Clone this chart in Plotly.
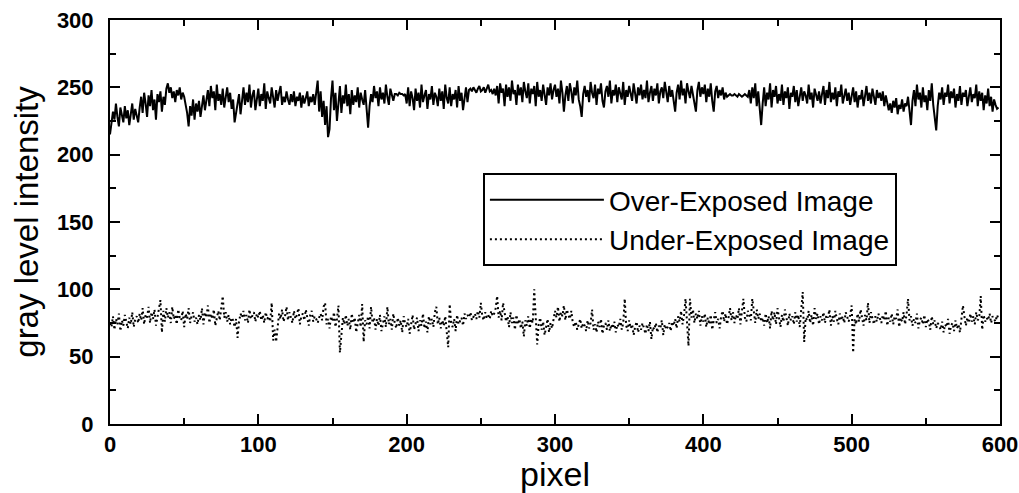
import plotly.graph_objects as go

over_exposed = [
    215, 222, 232, 226, 238, 228, 221, 235, 229, 224, 236, 227, 233, 222, 230, 238, 226, 234, 229, 224,
    235, 243, 231, 246, 238, 228, 244, 236, 248, 233, 241, 226, 245, 239, 247, 232, 243, 237, 249, 253,
    246, 250, 242, 247, 239, 248, 244, 250, 241, 246, 243, 238, 231, 221, 236, 229, 241, 226, 238, 232,
    240, 228, 237, 244, 233, 239, 248, 236, 251, 242, 247, 233, 252, 240, 245, 237, 249, 235, 244, 250,
    239, 246, 234, 241, 224, 232, 238, 245, 230, 243, 250, 237, 246, 239, 252, 235, 244, 248, 233, 241,
    249, 236, 245, 240, 253, 234, 247, 242, 238, 250, 244, 235, 248, 240, 246, 251, 237, 243, 239, 247,
    241, 237, 245, 239, 247, 236, 243, 240, 246, 235, 244, 238, 242, 247, 236, 243, 239, 245, 237, 248,
    255, 232, 247, 228, 240, 222, 236, 213, 219, 242, 255, 233, 246, 225, 240, 251, 231, 244, 238, 252,
    236, 245, 230, 248, 237, 244, 239, 250, 235, 246, 241, 237, 248, 233, 220, 236, 245, 239, 251, 242,
    247, 236, 250, 241, 246, 238, 252, 243, 237, 249, 244, 240, 245, 245, 244, 246, 245, 245, 244, 245,
    238, 250, 236, 247, 242, 233, 249, 240, 246, 235, 252, 239, 244, 248, 234, 245, 241, 251, 237, 246,
    243, 236, 249, 240, 247, 234, 252, 242, 238, 250, 236, 245, 241, 248, 235, 251, 240, 246, 233, 244,
    250, 239, 248, 249, 247, 250, 248, 246, 249, 251, 247, 248, 250, 246, 249, 252, 247, 248, 245, 249,
    244, 251, 238, 253, 246, 249, 236, 252, 243, 250, 240, 255, 245, 248, 237, 252, 244, 250, 239, 254,
    247, 242, 253, 238, 249, 245, 251, 236, 254, 243, 248, 240, 252, 246, 237, 250, 244, 253, 241, 248,
    252, 243, 249, 238, 255, 246, 232, 244, 251, 240, 253, 247, 238, 250, 244, 255, 241, 236, 228, 245,
    251, 243, 248, 239, 254, 246, 242, 252, 237, 249, 245, 253, 240, 235, 247, 251, 243, 255, 238, 248,
    244, 252, 239, 250, 246, 241, 254, 237, 248, 243, 251, 245, 240, 253, 247, 238, 250, 244, 252, 241,
    248, 242, 255, 239, 246, 251, 240, 249, 244, 253, 238, 247, 250, 242, 254, 245, 239, 251, 243, 248,
    240, 232, 246, 252, 241, 255, 244, 249, 238, 253, 247, 242, 251, 245, 240, 232, 248, 254, 243, 250,
    245, 252, 239, 249, 243, 253, 240, 232, 247, 251, 242, 248, 244, 250, 241, 246, 243, 244, 245, 244,
    244, 245, 244, 243, 245, 244, 243, 244, 245, 244, 243, 248, 238, 250, 242, 253, 236, 247, 232, 222,
    238, 250, 236, 246, 241, 253, 235, 248, 243, 251, 238, 245, 240, 252, 237, 247, 242, 250, 234, 246,
    243, 251, 239, 248, 236, 245, 250, 240, 247, 244, 238, 252, 241, 246, 235, 249, 243, 240, 247, 238,
    245, 251, 237, 248, 242, 254, 239, 246, 241, 250, 236, 247, 243, 252, 238, 245, 249, 240, 246, 237,
    243, 250, 239, 247, 235, 244, 241, 248, 236, 245, 251, 240, 246, 238, 249, 243, 237, 248, 242, 246,
    240, 247, 236, 244, 239, 233, 238, 231, 240, 235, 242, 230, 237, 234, 241, 232, 238, 236, 243, 233,
    222, 240, 248, 236, 252, 241, 246, 235, 250, 239, 244, 233, 248, 240, 253, 237, 229, 218, 236, 246,
    241, 250, 237, 246, 243, 252, 238, 247, 242, 249, 235, 245, 240, 251, 237, 246, 243, 248, 236, 244,
    250, 239, 245, 242, 252, 236, 247, 240, 246, 233, 244, 238, 249, 236, 243, 232, 241, 237, 234, 235,
]

under_exposed = [
    75, 72, 80, 70, 78, 74, 82, 69, 77, 73, 81, 76, 71, 79, 74, 83, 72, 78, 80, 75,
    82, 77, 86, 74, 81, 79, 87, 75, 83, 78, 85, 73, 80, 88, 92, 68, 84, 76, 86, 79,
    83, 75, 87, 78, 81, 74, 85, 79, 77, 84, 72, 82, 78, 86, 75, 80, 83, 76, 79, 74,
    81, 77, 86, 74, 83, 79, 88, 75, 82, 78, 85, 73, 80, 84, 77, 87, 95, 79, 83, 76,
    81, 74, 79, 77, 72, 78, 64, 76, 82, 79, 84, 77, 81, 75, 85, 78, 80, 83, 76, 82,
    79, 84, 77, 81, 75, 83, 78, 80, 76, 90, 62, 70, 61, 74, 82, 78, 85, 76, 80, 87,
    77, 83, 79, 75, 84, 78, 81, 86, 74, 80, 82, 77, 85, 79, 73, 81, 84, 76, 80, 78,
    75, 79, 82, 77, 87, 90, 74, 78, 71, 80, 76, 83, 72, 78, 88, 53, 66, 79, 74, 81,
    73, 78, 70, 82, 75, 79, 68, 76, 81, 72, 89, 61, 77, 74, 80, 71, 87, 75, 79, 70,
    78, 73, 81, 69, 76, 80, 72, 87, 74, 78, 70, 82, 75, 71, 79, 73, 77, 68, 80, 74,
    72, 78, 67, 76, 81, 70, 75, 79, 69, 77, 73, 82, 71, 76, 68, 80, 74, 78, 72, 83,
    87, 74, 79, 71, 77, 73, 80, 70, 57, 89, 75, 72, 78, 69, 81, 74, 76, 79, 73, 82,
    78, 81, 79, 83, 77, 80, 82, 78, 84, 79, 90, 80, 77, 83, 79, 81, 78, 84, 80, 82,
    86, 95, 79, 84, 77, 90, 82, 76, 80, 72, 83, 75, 79, 70, 81, 74, 78, 71, 76, 65,
    77, 73, 80, 71, 78, 75, 100, 82, 59, 74, 79, 70, 76, 66, 73, 78, 68, 75, 71, 79,
    84, 79, 87, 76, 83, 80, 88, 77, 85, 81, 78, 84, 75, 72, 76, 70, 74, 78, 71, 75,
    73, 69, 77, 71, 75, 85, 70, 74, 68, 76, 72, 78, 67, 73, 75, 70, 77, 69, 74, 71,
    76, 68, 74, 72, 78, 70, 75, 93, 73, 69, 77, 71, 74, 66, 72, 76, 68, 73, 70, 75,
    71, 67, 74, 69, 76, 63, 72, 70, 75, 68, 73, 71, 77, 66, 74, 70, 72, 75, 69, 76,
    73, 78, 71, 80, 76, 84, 74, 81, 93, 77, 58, 93, 79, 85, 75, 82, 78, 84, 73, 80,
    76, 82, 72, 79, 74, 81, 70, 77, 83, 75, 78, 71, 80, 84, 76, 82, 74, 79, 86, 77,
    83, 75, 81, 78, 86, 74, 82, 93, 79, 76, 84, 80, 77, 93, 81, 75, 85, 78, 82, 76,
    79, 73, 82, 75, 80, 71, 84, 77, 83, 74, 86, 78, 72, 81, 76, 85, 79, 73, 82, 77,
    80, 74, 83, 76, 81, 72, 85, 98, 61, 79, 77, 84, 75, 81, 73, 86, 78, 82, 74, 80,
    77, 83, 75, 81, 79, 85, 73, 80, 76, 84, 78, 74, 82, 77, 80, 75, 83, 79, 76, 81,
    88, 53, 78, 74, 82, 76, 85, 79, 73, 81, 77, 90, 75, 83, 79, 74, 80, 76, 82, 78,
    75, 81, 77, 84, 73, 79, 76, 82, 74, 80, 78, 85, 72, 79, 76, 83, 74, 81, 93, 77,
    80, 73, 78, 75, 82, 71, 77, 79, 74, 81, 72, 78, 76, 70, 80, 74, 77, 71, 75, 73,
    70, 76, 68, 74, 72, 78, 67, 73, 75, 69, 77, 71, 74, 68, 76, 88, 80, 73, 79, 75,
    82, 76, 80, 74, 83, 77, 79, 95, 70, 81, 76, 79, 77, 82, 75, 80, 78, 76, 81, 78,
]

pixel_over = list(range(len(over_exposed)))
pixel_under = list(range(len(under_exposed)))

x_ticks = [0, 100, 200, 300, 400, 500, 600]
y_ticks = [0, 50, 100, 150, 200, 250, 300]

FONT = "Liberation Sans, Arial, Helvetica, sans-serif"

fig = go.Figure()
fig.add_trace(go.Scatter(
    x=pixel_over, y=over_exposed, mode="lines", name="Over-Exposed Image",
    line=dict(color="black", width=2, dash="solid"),
))
fig.add_trace(go.Scatter(
    x=pixel_under, y=under_exposed, mode="lines", name="Under-Exposed Image",
    line=dict(color="black", width=2, dash="2px,3px"),
))

fig.update_layout(
    width=1019, height=493,
    margin=dict(l=110, r=19, t=20, b=69, autoexpand=False),
    paper_bgcolor="white", plot_bgcolor="white",
    font=dict(family=FONT, color="black"),
    showlegend=True,
    legend=dict(
        x=0.419, y=0.621, xanchor="left", yanchor="top",
        bgcolor="white", bordercolor="black", borderwidth=2,
        font=dict(size=28, family=FONT, color="black"),
        tracegroupgap=0, itemwidth=114,
    ),
)

fig.update_xaxes(
    range=[0, 600], tickvals=x_ticks, ticktext=[str(v) for v in x_ticks],
    showgrid=False, zeroline=False, automargin=False,
    showline=True, linecolor="black", linewidth=2, mirror="allticks",
    ticks="inside", ticklen=10, tickwidth=1.5, tickcolor="black",
    minor=dict(ticks="inside", ticklen=6, tickwidth=1.5, tickcolor="black", dtick=50, tick0=0, showgrid=False),
    tickfont=dict(size=22, family=FONT, color="black", weight="bold"),
    title=dict(text="pixel", font=dict(size=34, family=FONT, color="black"), standoff=0),
)
fig.update_yaxes(
    range=[0, 300], tickvals=y_ticks, ticktext=[str(v) for v in y_ticks],
    showgrid=False, zeroline=False, automargin=False,
    showline=True, linecolor="black", linewidth=2, mirror="allticks",
    ticks="inside", ticklen=10, tickwidth=1.5, tickcolor="black",
    minor=dict(ticks="inside", ticklen=6, tickwidth=1.5, tickcolor="black", dtick=25, tick0=0, showgrid=False),
    tickfont=dict(size=22, family=FONT, color="black", weight="bold"),
    ticklabelstandoff=10,
    title=dict(text="gray level intensity", font=dict(size=33, family=FONT, color="black"), standoff=8),
)

fig.write_html("out.html")
